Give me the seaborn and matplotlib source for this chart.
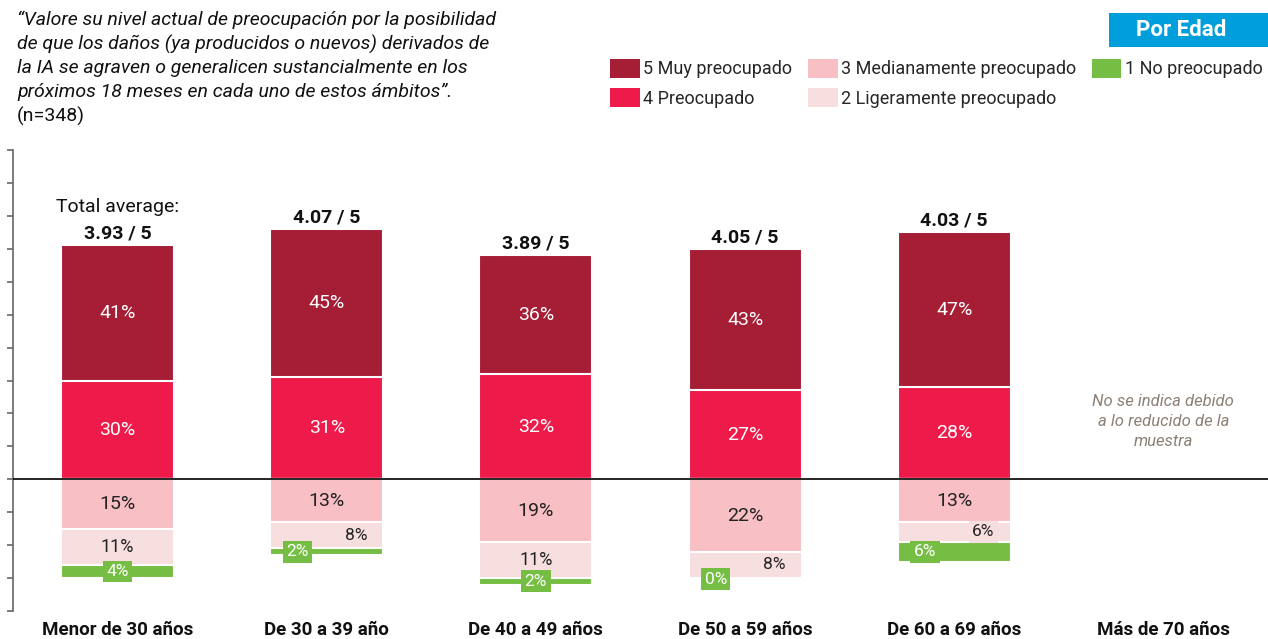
import numpy as np
import pandas as pd
import matplotlib.pyplot as plt
import seaborn as sns
from matplotlib.patches import Patch, Rectangle

# Data
groups = ["Menor de 30 años", "De 30 a 39 año", "De 40 a 49 años",
          "De 50 a 59 años", "De 60 a 69 años", "Más de 70 años"]
muy_preocupado = [41, 45, 36, 43, 47, np.nan]
preocupado = [30, 31, 32, 27, 28, np.nan]
medianamente = [15, 13, 19, 22, 13, np.nan]
ligeramente = [11, 8, 11, 8, 6, np.nan]
no_preocupado = [4, 2, 2, 0, 6, np.nan]
averages = [3.93, 4.07, 3.89, 4.05, 4.03, np.nan]

level_names = ["5 Muy preocupado", "4 Preocupado", "3 Medianamente preocupado",
               "2 Ligeramente preocupado", "1 No preocupado"]
colors = ["#A51E36", "#EE1A4A", "#F8BFC5", "#F7DEDF", "#76BE43"]

title_text = ("“Valore su nivel actual de preocupación por la posibilidad\n"
              "de que los daños (ya producidos o nuevos) derivados de\n"
              "la IA se agraven o generalicen sustancialmente en los\n"
              "próximos 18 meses en cada uno de estos ámbitos”.")

df = pd.DataFrame({
    "group": groups,
    "p5": muy_preocupado,
    "p4": preocupado,
    "p3": medianamente,
    "p2": ligeramente,
    "p1": no_preocupado,
})
df["top"] = df["p5"] + df["p4"]
df["neg3"] = -df["p3"]
df["neg32"] = -(df["p3"] + df["p2"])
df["neg321"] = -(df["p3"] + df["p2"] + df["p1"])

sns.set_theme(style="white")
plt.rcParams["font.family"] = ["Roboto", "DejaVu Sans"]

fig = plt.figure(figsize=(12.68, 6.39), dpi=100)
ax = fig.add_axes([13 / 1268, 1 - 611 / 639, 1 - 13 / 1268, (611 - 150) / 639])

bar_kw = dict(order=groups, width=0.54, edgecolor="white", linewidth=1.5,
              errorbar=None, ax=ax, zorder=2)
# stacked by overlaying cumulative totals
sns.barplot(data=df, x="group", y="top", color=colors[0], saturation=1, **bar_kw)
sns.barplot(data=df, x="group", y="p4", color=colors[1], saturation=1, **bar_kw)
sns.barplot(data=df, x="group", y="neg321", color=colors[4], saturation=1, **bar_kw)
sns.barplot(data=df, x="group", y="neg32", color=colors[3], saturation=1, **bar_kw)
sns.barplot(data=df, x="group", y="neg3", color=colors[2], saturation=1, **bar_kw)

ax.axhline(0, color="black", lw=1.2, zorder=3)

for i, row in df.iterrows():
    if np.isnan(row["p5"]):
        continue
    ax.text(i, row["p4"] + row["p5"] / 2, f"{row['p5']:.0f}%", ha="center", va="center",
            color="white", fontsize=14, zorder=4)
    ax.text(i, row["p4"] / 2, f"{row['p4']:.0f}%", ha="center", va="center",
            color="white", fontsize=14, zorder=4)
    ax.text(i, -row["p3"] / 2, f"{row['p3']:.0f}%", ha="center", va="center",
            color="#222222", fontsize=14, zorder=4)
    small = row["p2"] < 10
    y2 = -row["p3"] - row["p2"] / 2
    if small:
        ax.text(i + 0.14, y2, f"{row['p2']:.0f}%", ha="center", va="center",
                color="#222222", fontsize=12.5, zorder=5,
                bbox=dict(boxstyle="square,pad=0.2", fc=colors[3], ec="none"))
    else:
        ax.text(i, y2, f"{row['p2']:.0f}%", ha="center", va="center",
                color="#222222", fontsize=13, zorder=4)
    y1 = -row["p3"] - row["p2"] - row["p1"] / 2
    if row["p1"] == 0:
        y1 -= 0.3
    ax.text(i - 0.14 if small else i, y1, f"{row['p1']:.0f}%", ha="center", va="center",
            color="white", fontsize=12.5, zorder=5,
            bbox=dict(boxstyle="square,pad=0.2", fc=colors[4], ec="none"))
    ax.text(i, row["top"] + 3.5, f"{averages[i]:.2f} / 5", ha="center", va="center",
            fontsize=14, fontweight="bold", color="#111111", zorder=4)

ax.text(0, df.loc[0, "top"] + 11.6, "Total average:", ha="center", va="center",
        fontsize=14, color="#111111")
ax.text(5, 17.5, "No se indica debido\na lo reducido de la\nmuestra", ha="center",
        va="center", fontsize=12, style="italic", color="#8C8075", linespacing=1.4)

ax.set_xlim(-0.5, 5.5)
ax.set_ylim(-40, 100)
ax.set_yticks(np.arange(-40, 101, 10))
ax.set_yticklabels([])
ax.set_xlabel("")
ax.set_ylabel("")
ax.tick_params(axis="y", left=True, length=4, width=1.2, color="#666666", direction="out")
ax.tick_params(axis="x", bottom=False, length=0, pad=7)
for lbl in ax.get_xticklabels():
    lbl.set_fontweight("bold")
    lbl.set_fontsize(13.5)
    lbl.set_color("#111111")
for side in ["top", "right", "bottom"]:
    ax.spines[side].set_visible(False)
ax.spines["left"].set_color("#666666")
ax.spines["left"].set_linewidth(1.2)

# title / question
fig.text(17 / 1268, 1 - 11 / 639, title_text, ha="left", va="top", fontsize=14,
         style="italic", color="#111111", linespacing=1.38)
fig.text(17 / 1268, 1 - 116 / 639, "(n=348)", ha="left", va="center", fontsize=14,
         color="#111111")

# badge
fig.patches.append(Rectangle((1109 / 1268, 1 - 47 / 639), 159 / 1268, 34 / 639,
                             transform=fig.transFigure, fc="#009FDB", ec="none"))
fig.text(1181 / 1268, 1 - 30 / 639, "Por Edad", ha="center", va="center",
         fontsize=16, fontweight="bold", color="white")

handles = [Patch(facecolor=c, edgecolor="none") for c in colors]
fig.legend(handles, level_names, loc="upper left", bbox_to_anchor=(610 / 1268, 1 - 59 / 639),
           ncol=3, frameon=False, fontsize=13, borderpad=0, borderaxespad=0,
           handlelength=1.65, handleheight=1.2, handletextpad=0.2, columnspacing=0.85,
           labelspacing=0.55)

fig.savefig("out.png", dpi=100)
